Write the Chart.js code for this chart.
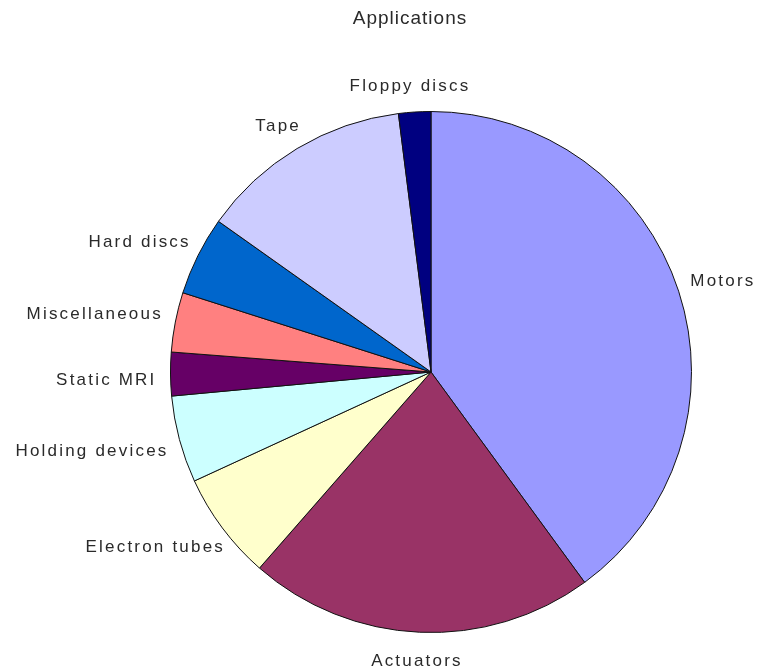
<!DOCTYPE html>
<html>
<head>
<meta charset="utf-8">
<script src="https://cdn.jsdelivr.net/npm/chart.js@4.4.1/dist/chart.umd.min.js"></script>
<style>
  body { margin: 0; background: #fff; }
  #wrap { width: 759px; height: 671px; }
</style>
</head>
<body>
<div id="wrap"><canvas id="appChart" width="759" height="671"></canvas></div>
<script>
// Slice data, clockwise from 12 o'clock
const categories = ['Motors', 'Actuators', 'Electron tubes', 'Holding devices', 'Static MRI',
                    'Miscellaneous', 'Hard discs', 'Tape', 'Floppy discs'];
const shares = [40.0, 21.5, 6.7, 5.4, 2.7, 3.7, 4.9, 13.2, 2.0];
const sliceColors = ['#9999FF', '#993366', '#FFFFCC', '#CCFFFF', '#660066',
                     '#FF8080', '#0066CC', '#CCCCFF', '#000080'];
const chartTitle = 'Applications';

const FONT = '"Liberation Sans", Arial, sans-serif';

// Category names outside each slice (no leader lines) plus the title
const outsideLabels = {
    id: 'outsideLabels',
    afterDatasetsDraw(chart) {
        const ctx = chart.ctx;
        const meta = chart.getDatasetMeta(0);
        ctx.save();
        ctx.font = '17px ' + FONT;
        ctx.letterSpacing = '2.2px';
        ctx.fillStyle = '#2a2a2a';
        ctx.textAlign = 'center';
        ctx.textBaseline = 'middle';
        const h = 18;
        meta.data.forEach((arc, i) => {
            const p = arc.getProps(['x', 'y', 'startAngle', 'endAngle', 'outerRadius'], true);
            const mid = (p.startAngle + p.endAngle) / 2;
            const cos = Math.cos(mid), sin = Math.sin(mid);
            const r = p.outerRadius + 14;
            const w = ctx.measureText(categories[i]).width;
            const cx = p.x + r * cos + cos * w / 2;
            // labels below the centre sit a little lower, the upper ones a little higher
            const cy = p.y + r * sin + sin * h / 2 + (sin > 0 ? 6 : -3);
            ctx.fillText(categories[i], cx, cy);
        });

        // title, a bit left of the pie centre as in the original
        ctx.font = '19px ' + FONT;
        ctx.letterSpacing = '1px';
        ctx.fillText(chartTitle, 410, 19);
        ctx.restore();
    }
};

const ctx = document.getElementById('appChart').getContext('2d');
const chart = new Chart(ctx, {
    type: 'pie',
    data: {
        labels: categories,
        datasets: [{
            data: shares,
            backgroundColor: sliceColors,
            borderColor: '#111',
            borderWidth: 1
        }]
    },
    options: {
        responsive: false,
        animation: false,
        layout: {
            padding: { left: 170, right: 67, top: 111, bottom: 38 }
        },
        plugins: {
            legend: { display: false },
            tooltip: { enabled: false },
            title: { display: false }
        }
    },
    plugins: [outsideLabels]
});
</script>
</body>
</html>
